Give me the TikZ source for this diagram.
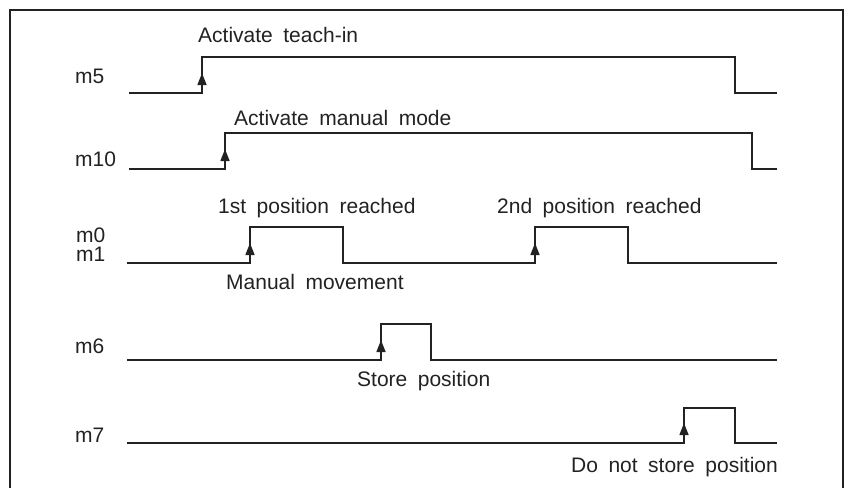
\documentclass[tikz,border=0pt]{standalone}
\usepackage{fontspec}
\setmainfont[WordSpace=1.8]{Liberation Sans}
\usetikzlibrary{arrows.meta}
\definecolor{ink}{HTML}{222222}
\begin{document}
\begin{tikzpicture}[x=1pt,y=-1pt,
  sig/.style={draw=ink,line width=1.4pt,line join=miter},
  edge/.style={draw=ink,line width=1.4pt,-{Triangle[length=12pt,width=9pt]}},
  lbl/.style={text=ink,font=\fontsize{21}{25}\selectfont,inner sep=0pt,anchor=base west},
  frame/.style={draw=ink,line width=1.1pt}]
\useasboundingbox (0,0) rectangle (849,488);
% open frame
\draw[frame] (10,488) -- (10,10) -- (843,10) -- (843,488);

% signal names
\node[lbl] (n5)  at (75,83)  {m5};
\node[lbl] (n10) at (75,166) {m10};
\node[lbl] (n0)  at (76,242) {m0};
\node[lbl] (n1)  at (76,261) {m1};
\node[lbl] (n6)  at (75,353) {m6};
\node[lbl] (n7)  at (75,442) {m7};

% event labels
\node[lbl] (t1) at (198,42)  {Activate teach-in};
\node[lbl] (t2) at (234,125) {Activate manual mode};
\node[lbl] (t3) at (218,213) {1st position reached};
\node[lbl] (t4) at (497,213) {2nd position reached};
\node[lbl] (t5) at (226,289) {Manual movement};
\node[lbl] (t6) at (357,386) {Store position};
\node[lbl] (t7) at (571,472) {Do not store position};

% m5
\draw[sig] (129,93) -- (202,93) -- (202,57) -- (735,57) -- (735,93) -- (777,93);
\draw[edge] (202,93) -- (202,73);
% m10
\draw[sig] (129,169) -- (225,169) -- (225,133) -- (752,133) -- (752,169) -- (777,169);
\draw[edge] (225,169) -- (225,149);
% m0 / m1
\draw[sig] (127,263) -- (250,263) -- (250,227) -- (343,227) -- (343,263)
  -- (535,263) -- (535,227) -- (628,227) -- (628,263) -- (777,263);
\draw[edge] (250,263) -- (250,243);
\draw[edge] (535,263) -- (535,243);
% m6
\draw[sig] (127,360) -- (381,360) -- (381,324) -- (431,324) -- (431,360) -- (777,360);
\draw[edge] (381,360) -- (381,340);
% m7
\draw[sig] (127,443) -- (684,443) -- (684,408) -- (735,408) -- (735,443) -- (777,443);
\draw[edge] (684,443) -- (684,423);
\end{tikzpicture}
\end{document}
